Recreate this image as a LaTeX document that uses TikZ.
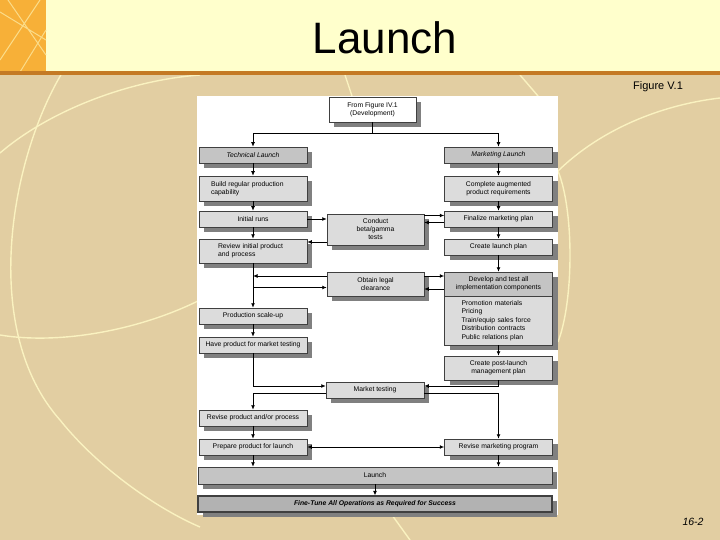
\documentclass[tikz,border=0pt]{standalone}
\usepackage{fontspec}
\setmainfont{Liberation Sans}
\usepackage{tikz}
\usetikzlibrary{arrows.meta,positioning,shadows}
\definecolor{pagebg}{RGB}{226,206,162}
\definecolor{bandbg}{RGB}{255,255,204}
\definecolor{bandorange}{RGB}{247,176,56}
\definecolor{rulebrown}{RGB}{196,122,36}
\definecolor{arcline}{RGB}{250,242,192}
\definecolor{boxlight}{RGB}{220,220,220}
\definecolor{boxmid}{RGB}{196,196,196}
\definecolor{boxdark}{RGB}{178,178,178}
\definecolor{shadowgrey}{RGB}{128,128,128}
\tikzset{
  box/.style={draw=black!75,fill=boxlight,line width=0.5pt,align=center,inner sep=2pt,
              font=\fontsize{6.8}{8}\selectfont,minimum height=16pt,minimum width=108pt,
              drop shadow={shadow xshift=5pt,shadow yshift=-5pt,fill=shadowgrey,opacity=1}},
  boxh/.style={box,fill=boxmid},
  boxw/.style={box,fill=white},
  boxm/.style={box,minimum width=97pt},
  flow/.style={->,line width=0.9pt},
  deco/.style={draw=arcline,line width=1.4pt},
}

\begin{document}
\begin{tikzpicture}[x=1pt,y=-1pt,>={Latex[length=4.5pt,width=4pt]}]
  \useasboundingbox (0,0) rectangle (720,540);
  \fill[pagebg] (0,0) rectangle (720,540);
  \draw[deco] (62,73) .. controls (10,160) and (-20,330) .. (60,420)
              .. controls (100,470) and (160,510) .. (200,527);
  \draw[deco] (0,153) .. controls (50,110) and (130,80) .. (200,75);
  \draw[deco] (0,335) .. controls (60,345) and (140,330) .. (200,300);
  \draw[deco] (345,75) -- (352,96);
  \draw[deco] (520,75) -- (538,96);
  \draw[deco] (558,171) .. controls (600,130) and (660,105) .. (720,98);
  \draw[deco] (558,171) .. controls (574,210) and (574,300) .. (558,342);
  \draw[deco] (392,515) -- (410,540);

  \fill[bandbg] (0,0) rectangle (720,72);
  \fill[bandorange] (0,0) rectangle (46,72);
  \draw[bandorange!45!bandbg,line width=1pt] (0,12) -- (46,40) (8,0) -- (46,55)
       (0,60) -- (40,0) (20,72) -- (46,30);
  \fill[rulebrown] (0,71) rectangle (720,75);
  \node[font=\fontsize{44}{44}\selectfont] (title) at (385,38) {Launch};
  \node[font=\fontsize{11}{13}\selectfont] (figref) at (658,87) {Figure V.1};
  \node[font=\itshape\fontsize{10.5}{12}\selectfont] (pnum) at (693,522) {16-2};

  \fill[white] (197,96) rectangle (558,515);

  \node[boxw,minimum width=87pt,minimum height=25pt] (src) at (372.5,109.5)
       {From Figure IV.1\\(Development)};
  \node[boxh,font=\itshape\fontsize{6.8}{8}\selectfont] (tech) at (253,155) {Technical Launch};
  \node[boxh,font=\itshape\fontsize{6.8}{8}\selectfont] (mkt) at (498.5,155) {Marketing Launch};
  \node[box,minimum height=25pt,align=left,text width=84pt,inner xsep=12pt] (build) at (253,188.5)
       {Build regular production\\capability};
  \node[box,minimum height=25pt] (compl) at (498.5,188.5) {Complete augmented\\product requirements};
  \node[box] (runs) at (253,219) {Initial runs};
  \node[boxm,minimum height=31pt] (beta) at (375.5,229.5) {Conduct\\beta/gamma\\tests};
  \node[box] (final) at (498.5,219) {Finalize marketing plan};
  \node[box,minimum height=24pt,align=left,text width=70pt,inner xsep=19pt] (review) at (253,251)
       {Review initial product\\and process};
  \node[box] (plan) at (498.5,247) {Create launch plan};
  \node[boxm,minimum height=24pt] (legal) at (375.5,284) {Obtain legal\\clearance};
  \node[boxh,minimum height=24pt] (dev) at (498.5,284) {Develop and test all\\implementation components};
  \node[box,minimum height=49pt,align=left,text width=74pt,inner xsep=17pt,
        font=\fontsize{6.8}{8.4}\selectfont] (devlist) at (498.5,320.5)
       {Promotion materials\\Pricing\\Train/equip sales force\\Distribution contracts\\Public relations plan};
  \node[box] (scale) at (253,316) {Production scale-up};
  \node[box] (have) at (253,345) {Have product for market testing};
  \node[box,minimum height=24pt] (post) at (498.5,368) {Create post-launch\\management plan};
  \node[boxm,minimum width=98pt] (mtest) at (375,390) {Market testing};
  \node[box] (revp) at (253,418) {Revise product and/or process};
  \node[box] (prep) at (253,447) {Prepare product for launch};
  \node[box] (revm) at (498.5,447) {Revise marketing program};
  \node[boxh,minimum width=354pt,minimum height=17pt] (launch) at (375,475.5) {Launch};
  \node[box,fill=boxdark,line width=1.1pt,minimum width=354pt,
        font=\bfseries\itshape\fontsize{6.8}{8}\selectfont] (fine) at (375,504)
       {Fine-Tune All Operations as Required for Success};

  \coordinate (split) at (372.5,133);
  \draw[line width=0.9pt] (src) -- (split);
  \draw[flow] (split) -| (tech);
  \draw[flow] (split) -| (mkt);
  \draw[flow] (tech) -- (build);
  \draw[flow] (build) -- (runs);
  \draw[flow] (runs) -- (review);
  \draw[flow] (runs.east) -- (runs.east -| beta.west);
  \draw[flow] ([yshift=-12.5pt]beta.west) -- ([yshift=-12.5pt]beta.west -| review.east);
  \draw[flow] ([yshift=3.5pt]final.west -| beta.east) -- ([yshift=3.5pt]final.west);
  \draw[flow] ([yshift=-3.5pt]final.west) -- ([yshift=-3.5pt]final.west -| beta.east);
  \draw[flow] (mkt) -- (compl);
  \draw[flow] (compl) -- (final);
  \draw[flow] (final) -- (plan);
  \draw[flow] (plan) -- (dev);
  \draw[flow] (review) -- (scale);
  \draw[flow] ([yshift=8pt]legal.west) -- ([yshift=8pt]legal.west -| review.south);
  \draw[flow] ([yshift=-3.5pt]legal.west -| review.south) -- ([yshift=-3.5pt]legal.west);
  \draw[flow] ([yshift=8pt]legal.east) -- ([yshift=8pt]legal.east -| dev.west);
  \draw[flow] ([yshift=-5pt]legal.east -| dev.west) -- ([yshift=-5pt]legal.east);
  \draw[flow] (scale) -- (have);
  \draw[flow] (devlist) -- (post);
  \draw[flow] (have.south) |- ([yshift=4pt]mtest.west);
  \draw[flow] ([yshift=-3pt]mtest.west) -| (revp.north);
  \draw[flow] (post.south) |- ([yshift=4pt]mtest.east);
  \draw[flow] ([yshift=-3pt]mtest.east) -| (revm.north);
  \draw[flow] (revp) -- (prep);
  \draw[{Latex[length=4.5pt,width=4pt]}-{Latex[length=4.5pt,width=4pt]},line width=0.9pt] (prep) -- (revm);
  \draw[flow] (prep) -- (prep |- launch.north);
  \draw[flow] (revm) -- (revm |- launch.north);
  \draw[flow] (launch) -- (fine);
\end{tikzpicture}
\end{document}
